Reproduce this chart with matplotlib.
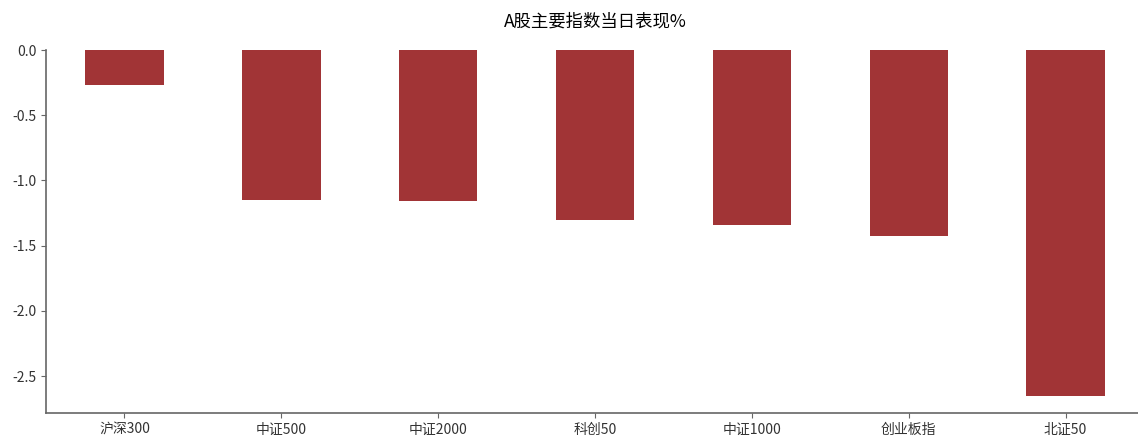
import matplotlib
matplotlib.use("Agg")
import matplotlib.pyplot as plt
import pandas as pd

# A股主要指数当日涨跌幅 (%)
indices = ["沪深300", "中证500", "中证2000", "科创50", "中证1000", "创业板指", "北证50"]
changes = [-0.267, -1.150, -1.158, -1.305, -1.342, -1.427, -2.650]

plt.rcParams['font.family'] = ['Noto Sans CJK SC', 'DejaVu Sans']
plt.rcParams['axes.unicode_minus'] = False

s = pd.Series(changes, index=indices)

fig = plt.figure(figsize=(11.38, 4.41), dpi=100)
ax = fig.add_axes([46 / 1138, 28 / 441, 1098 / 1138, 363 / 441])
s.plot(kind="bar", ax=ax, color="#A13436", width=0.5, rot=0)

ax.set_title("A股主要指数当日表现%", fontsize=12.5, pad=17, fontweight="medium")
ax.spines["top"].set_visible(False)
ax.spines["right"].set_visible(False)
for sp in ("left", "bottom"):
    ax.spines[sp].set_color("#666666")
    ax.spines[sp].set_linewidth(1.2)
ax.tick_params(colors="#333333", labelsize=10)
ax.tick_params(axis="both", color="#666666")

fig.savefig("out.png", dpi=100)
